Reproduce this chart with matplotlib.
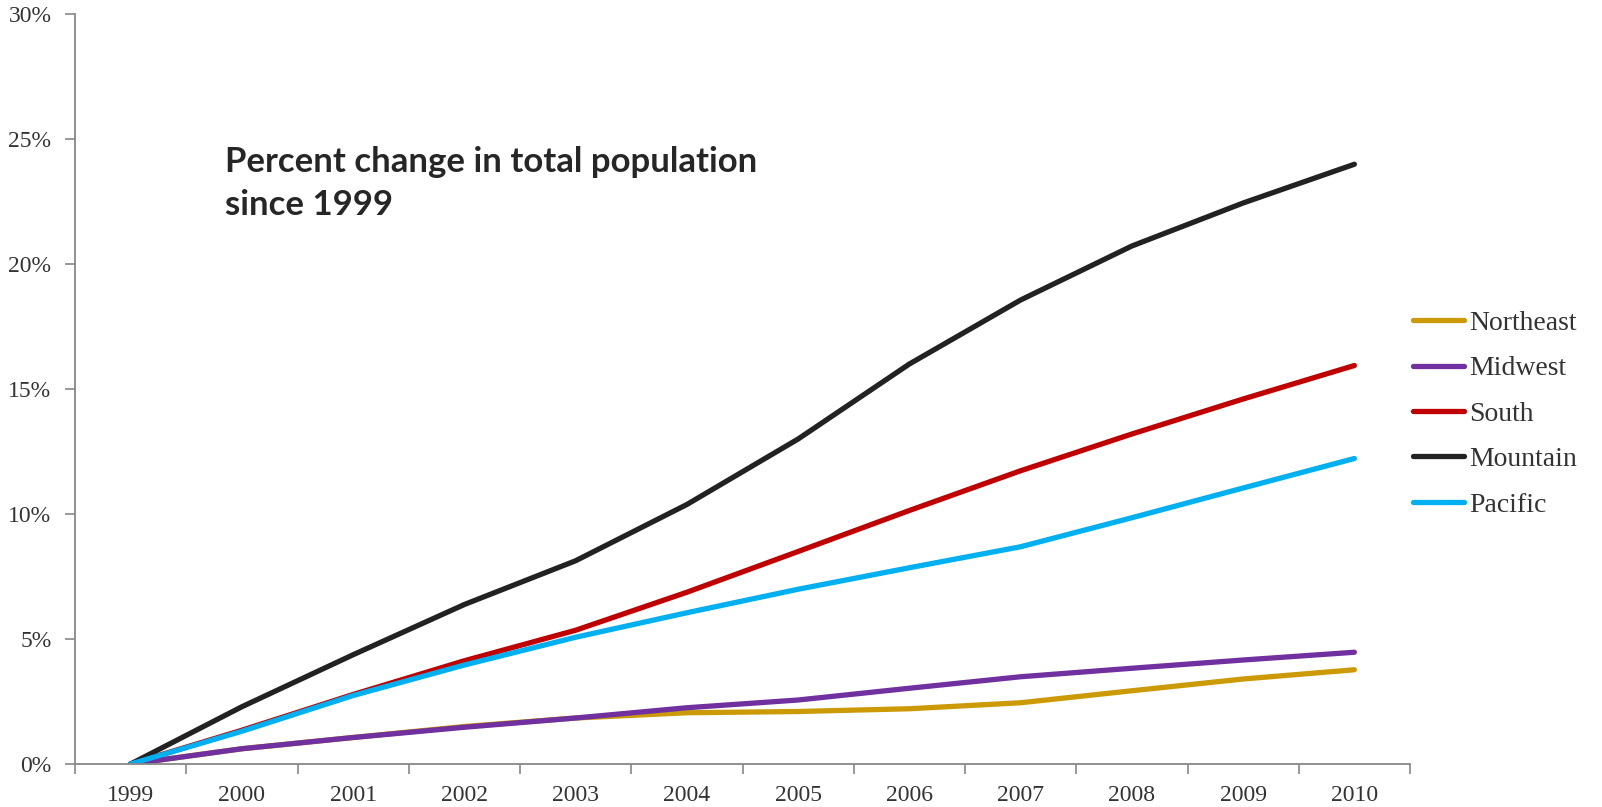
import matplotlib
matplotlib.use("Agg")
import matplotlib.pyplot as plt
import numpy as np

years = ['1999', '2000', '2001', '2002', '2003', '2004', '2005', '2006', '2007', '2008', '2009', '2010']

northeast = [0, 0.61, 1.06, 1.50, 1.84, 2.05, 2.10, 2.21, 2.45, 2.93, 3.40, 3.77]
midwest = [0, 0.61, 1.06, 1.47, 1.84, 2.25, 2.56, 3.03, 3.49, 3.83, 4.16, 4.47]
south = [0, 1.35, 2.78, 4.13, 5.35, 6.87, 8.50, 10.14, 11.73, 13.20, 14.60, 15.94]
mountain = [0, 2.29, 4.37, 6.38, 8.13, 10.38, 13.00, 16.00, 18.56, 20.72, 22.44, 23.99]
pacific = [0, 1.31, 2.74, 3.96, 5.07, 6.05, 6.99, 7.85, 8.69, 9.85, 11.04, 12.22]

series = [('Northeast', northeast, '#CC9A06'),
          ('Midwest', midwest, '#7030A0'),
          ('South', south, '#C00000'),
          ('Mountain', mountain, '#222222'),
          ('Pacific', pacific, '#00B0F0')]

plt.rcParams['font.family'] = ['Liberation Serif', 'DejaVu Serif']

fig = plt.figure(figsize=(16.02, 8.07), dpi=100)
ax = fig.add_axes([75 / 1602, 43 / 807, (1410 - 75) / 1602, (764 - 14) / 807])

x = np.arange(len(years))
for name, vals, col in series:
    ax.plot(x, vals, color=col, lw=3.8, label=name, solid_capstyle='round', solid_joinstyle='round')

ax.set_xlim(-0.5, len(years) - 0.5)
ax.set_ylim(0, 30)
ax.set_yticks(np.arange(0, 31, 5))
ax.set_yticklabels([f'{v}%' for v in range(0, 31, 5)])
ax.set_xticks(x)
ax.set_xticklabels(years)
ax.set_xticks(np.arange(-0.5, len(years), 1), minor=True)
ax.tick_params(axis='x', which='major', length=0, pad=15, labelsize=17, labelcolor='#333333')
ax.tick_params(axis='x', which='minor', length=7, width=1.2, color='#888888', direction='out')
ax.tick_params(axis='y', length=7, width=1.2, color='#888888', labelsize=17, labelcolor='#333333', pad=10)

for s in ['top', 'right']:
    ax.spines[s].set_visible(False)
for s in ['left', 'bottom']:
    ax.spines[s].set_color('#888888')
    ax.spines[s].set_linewidth(1.3)

ax.legend(loc='center left', bbox_to_anchor=(1413 / 1602, 1 - 414 / 807), bbox_transform=fig.transFigure,
          frameon=False, fontsize=20, labelspacing=0.72, handlelength=1.85, handletextpad=0.18,
          borderpad=0, borderaxespad=0, labelcolor='#333333')

title_lines = ['Percent change in total population', 'since 1999']
for i, line in enumerate(title_lines):
    fig.text(225 / 1602, 1 - (172 + 43 * i) / 807, line, family=['Lato', 'DejaVu Sans'],
             fontweight='bold', fontsize=25, color='#262626', va='baseline', ha='left')

fig.savefig('out.png', dpi=100)
